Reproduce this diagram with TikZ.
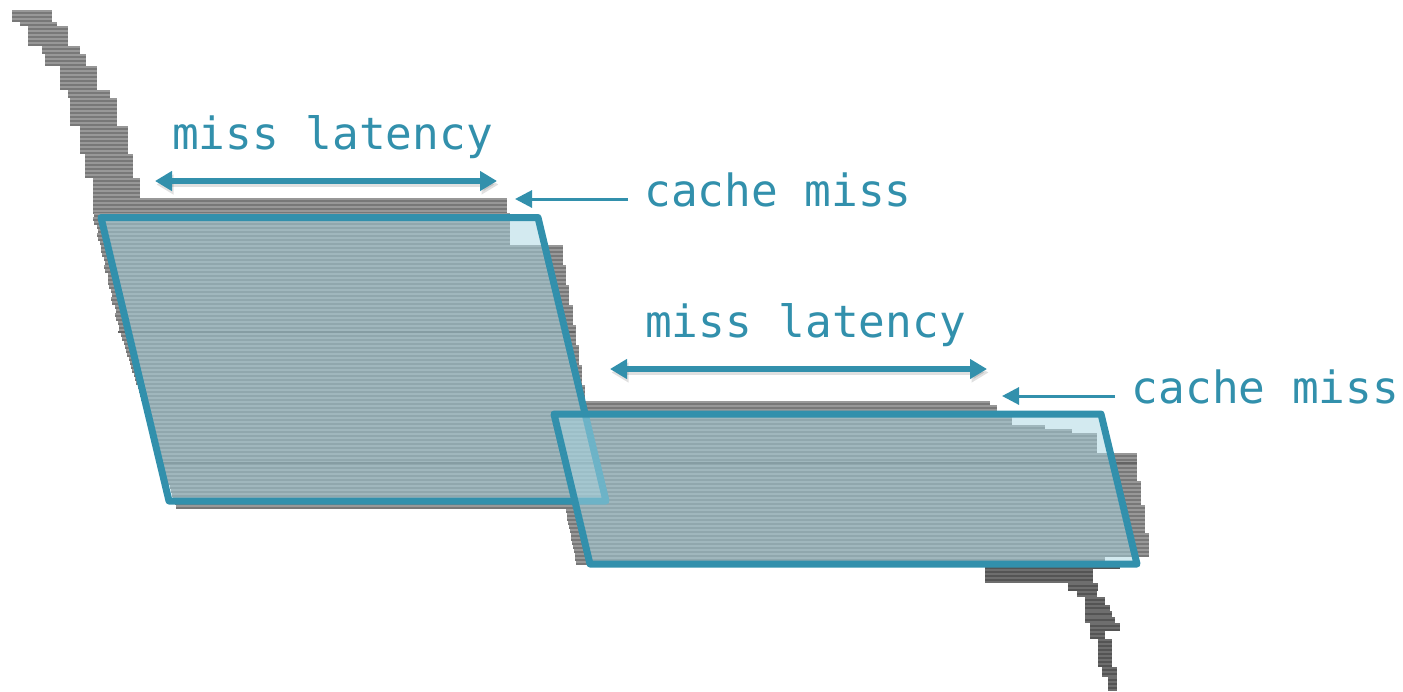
\documentclass[tikz,border=0pt]{standalone}
\usepackage{fontspec}
\newfontfamily\labelfont{DejaVu Sans Mono}
\usetikzlibrary{arrows.meta}

\definecolor{accent}{RGB}{50,144,172}
\definecolor{boxtint}{RGB}{168,214,226}
\definecolor{barlight}{RGB}{152,152,152}
\definecolor{barstripe}{RGB}{120,120,120}
\definecolor{taillight}{RGB}{110,110,110}
\definecolor{tailstripe}{RGB}{84,84,84}
\definecolor{seam}{RGB}{100,100,100}

% one block of stacked bars: y1, y2, x1, x2, fill colour, stripe colour
\newcommand\wfseg[6]{%
  \fill[#5] (#3,#1) rectangle (#4,#2);%
  \pgfmathtruncatemacro\wfn{max(1,floor(((#2)-(#1))/4))}%
  \foreach \k in {1,...,\wfn}{\fill[#6] (#3,{#1+4*\k-1.7}) rectangle (#4,{#1+4*\k-0.3});}%
}

\tikzset{
  boxfill/.style={fill=boxtint, fill opacity=0.5},
  boxline/.style={draw=accent, line width=3.5pt, line join=round},
  span/.style={draw=accent, line width=2.6pt, {Triangle[length=8.5pt,width=9.5pt]}-{Triangle[length=8.5pt,width=9.5pt]}},
  pointer/.style={draw=accent, line width=1.5pt, -{Triangle[length=8.5pt,width=8.5pt]}},
  softshadow/.style={draw=black, opacity=0.12, transform canvas={shift={(1.5,3.5)}}},
  lbl/.style={text=accent, font=\labelfont\fontsize{22.2}{26}\selectfont, inner sep=0pt, anchor=base},
}

\begin{document}
\begin{tikzpicture}[x=0.5pt,y=-0.5pt]
\useasboundingbox (0,0) rectangle (1403,691);

% ---- upper tail of the instruction bars
\foreach \ya/\yb/\xa/\xb in {10/22/12/52, 22/26/20/57, 26/46/28/68, 46/54/42/80,
  54/66/45/86, 66/90/60/97, 90/98/68/110, 98/126/70/117, 126/154/80/128,
  154/178/85/133, 178/198/93/140, 198/214/93/507}
  {\wfseg{\ya}{\yb}{\xa}{\xb}{barlight}{barstripe}}

% ---- bars waiting on the first miss (and on the second one further down)
\foreach \y in {213,217,...,505}{
  \pgfmathsetmacro\xs{\y<330 ? 94+0.225*(\y-213)-1.5*mod(floor(\y/8),2) : 120+0.32*(\y-330)}
  \pgfmathsetmacro\xe{\y<245 ? 510 : (\y<401 ? 563+3.2*floor((\y-245)/20) :
     (\y<405 ? 990 : (\y<413 ? 997 : (\y<425 ? 1012 : (\y<429 ? 1045 :
     (\y<433 ? 1072 : (\y<453 ? 1097 : (\y<557 ? 1137+4*floor((\y-453)/26) : 1105))))))))}
  \wfseg{\y}{\y+4}{\xs}{\xe}{barlight}{barstripe}
}
\foreach \y in {509,513,...,561}{
  \pgfmathsetmacro\xs{565+0.2*(\y-505)}
  \pgfmathsetmacro\xe{\y<557 ? 1137+4*floor((\y-453)/26) : 1105}
  \wfseg{\y}{\y+4}{\xs}{\xe}{barlight}{barstripe}
}

% ---- lower tail
\foreach \ya/\yb/\xa/\xb in {565/569/985/1120, 569/583/985/1093, 583/591/1068/1098,
  591/597/1077/1097, 597/605/1085/1105, 605/611/1085/1110, 611/617/1085/1112,
  617/623/1085/1115, 623/631/1090/1120, 631/639/1090/1105, 639/667/1098/1112,
  667/677/1102/1117, 677/691/1108/1117}
  {\wfseg{\ya}{\yb}{\xa}{\xb}{taillight}{tailstripe}}

% darker seams across the bars
\draw[seam, line width=1pt] (118,332) -- (575,332);
\draw[seam, line width=1pt] (158,462.5) -- (1137,462.5);

% ---- the two miss windows
\coordinate (p1a) at (101,217.5);
\coordinate (p1b) at (538,217.5);
\coordinate (p1c) at (606,501);
\coordinate (p1d) at (169,501);
\coordinate (p2a) at (554,414);
\coordinate (p2b) at (1101,414);
\coordinate (p2c) at (1137,564);
\coordinate (p2d) at (590,564);

\fill[boxfill] (p1a) -- (p1b) -- (p1c) -- (p1d) -- cycle;
\draw[boxline] (p1a) -- (p1b) -- (p1c) -- (p1d) -- cycle;
\fill[boxfill] (p2a) -- (p2b) -- (p2c) -- (p2d) -- cycle;
\draw[boxline] (p2a) -- (p2b) -- (p2c) -- (p2d) -- cycle;

% ---- latency spans
\coordinate (s1a) at (155,181);
\coordinate (s1b) at (497,181);
\coordinate (s2a) at (610,369);
\coordinate (s2b) at (987,369);
\draw[span, softshadow] (s1a) -- (s1b);
\draw[span, softshadow] (s2a) -- (s2b);
\draw[span] (s1a) -- (s1b);
\draw[span] (s2a) -- (s2b);
\node[lbl] (lat1) at (332.5,149) {miss latency};
\node[lbl] (lat2) at (805.5,337) {miss latency};

% ---- miss markers
\node[lbl] (miss1) at (778,206) {cache miss};
\node[lbl] (miss2) at (1265.5,403) {cache miss};
\coordinate (m1from) at (628,199);
\coordinate (m1to) at (515,199);
\coordinate (m2from) at (1115,396);
\coordinate (m2to) at (1002,396);
\draw[pointer] (m1from) -- (m1to);
\draw[pointer] (m2from) -- (m2to);
\end{tikzpicture}
\end{document}
